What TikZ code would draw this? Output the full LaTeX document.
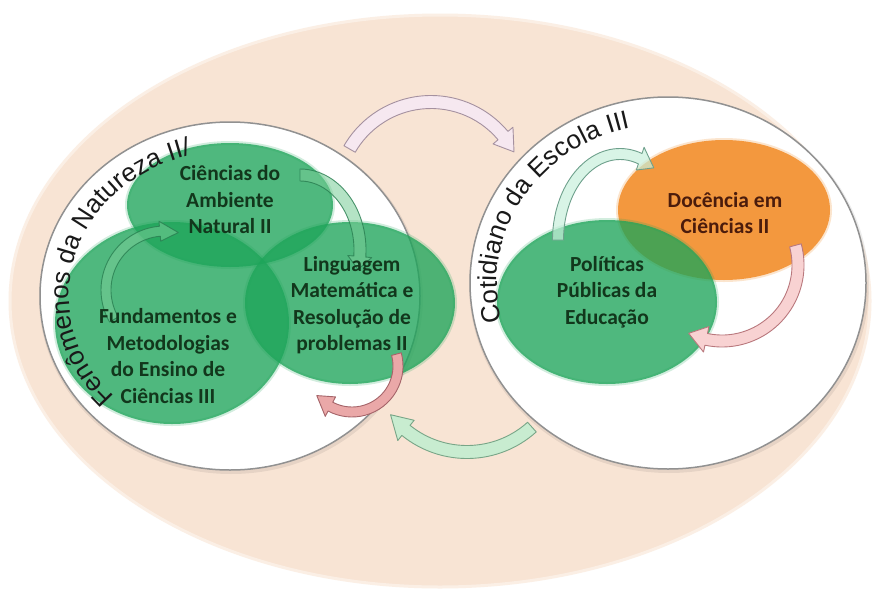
\documentclass[tikz,border=0pt]{standalone}
\usepackage{fontspec}
\setmainfont{Carlito}
\newfontfamily\ringfont{Liberation Sans}
\usetikzlibrary{shapes.geometric,calc,decorations.text}
\definecolor{peach}{RGB}{248,228,212}
\definecolor{ellgreen}{RGB}{30,165,90}
\definecolor{ellorange}{RGB}{243,152,62}
\definecolor{txtgreen}{RGB}{18,55,28}
\definecolor{txtbrown}{RGB}{75,28,12}
\definecolor{ringgray}{RGB}{145,145,145}
\definecolor{pinkfill}{RGB}{246,232,240}
\definecolor{pinkline}{RGB}{165,145,160}
\definecolor{lgfill}{RGB}{200,236,208}
\definecolor{lgline}{RGB}{120,165,135}
\definecolor{pdfill}{RGB}{234,168,168}
\definecolor{pdline}{RGB}{165,100,105}
\definecolor{igfill}{RGB}{120,205,150}
\definecolor{igline}{RGB}{40,125,80}
\definecolor{ig2fill}{RGB}{200,240,220}
\definecolor{ig2line}{RGB}{110,160,140}
\definecolor{p2fill}{RGB}{248,210,210}
\definecolor{p2line}{RGB}{185,120,125}
\definecolor{ringtext}{RGB}{25,25,25}
\pgfdeclareradialshading{ringshade}{\pgfpoint{0bp}{0bp}}{color(0bp)=(white); color(40bp)=(white); color(50bp)=(black!9); color(100bp)=(black!9)}
\newcommand\hang{12}
\newcommand\blockarc[9]{%
 \pgfmathsetmacro\bOx{(#3)+(#7)/2}\pgfmathsetmacro\bOy{(#4)+(#7)/2}%
 \pgfmathsetmacro\bIx{(#3)-(#7)/2}\pgfmathsetmacro\bIy{(#4)-(#7)/2}%
 \pgfmathsetmacro\bHOx{(#3)+(#8)/2}\pgfmathsetmacro\bHOy{(#4)+(#8)/2}%
 \pgfmathsetmacro\bHIx{(#3)-(#8)/2}\pgfmathsetmacro\bHIy{(#4)-(#8)/2}%
 \pgfmathsetmacro\bB{(#6)-(\hang)*sign((#6)-(#5))}%
 \draw[#9] ({(#1)+\bOx*cos(#5)},{(#2)+\bOy*sin(#5)})
   arc[start angle=#5,end angle=\bB,x radius=\bOx,y radius=\bOy]
   -- ({(#1)+\bHOx*cos(\bB)},{(#2)+\bHOy*sin(\bB)})
   -- ({(#1)+(#3)*cos(#6)},{(#2)+(#4)*sin(#6)})
   -- ({(#1)+\bHIx*cos(\bB)},{(#2)+\bHIy*sin(\bB)})
   -- ({(#1)+\bIx*cos(\bB)},{(#2)+\bIy*sin(\bB)})
   arc[start angle=\bB,end angle=#5,x radius=\bIx,y radius=\bIy] -- cycle;}
\begin{document}
\begin{tikzpicture}[x=1pt,y=-1pt,
  ell/.style={ellipse, inner sep=0pt, fill=ellgreen, fill opacity=0.78, draw=ellgreen, draw opacity=0.2, line width=4pt},
  ringshape/.style={ellipse, inner sep=0pt, shading=ringshade, draw=ringgray, line width=1.5pt},
  lab/.style={align=center, font=\bfseries\fontsize{21.5}{26.5}\selectfont, text=txtgreen},
  pinkarrow/.style={fill=pinkfill, draw=pinkline, line width=0.9pt, line join=round},
  greenarrow/.style={fill=lgfill, draw=lgline, line width=0.9pt, line join=round},
  pinkdark/.style={fill=pdfill, draw=pdline, line width=0.9pt, line join=round},
  ingreen/.style={fill=igfill, fill opacity=0.55, draw=igline, draw opacity=0.8, line width=0.9pt, line join=round},
  ingreentwo/.style={fill=ig2fill, fill opacity=0.7, draw=ig2line, line width=0.9pt, line join=round},
  pinktwo/.style={fill=p2fill, draw=p2line, line width=0.9pt, line join=round}]
\useasboundingbox (0,0) rectangle (877,589);
\fill[white] (0,0) rectangle (877,589);
% background
\node[ellipse, inner sep=0pt, fill=peach, draw=peach!60!white, line width=3pt,
      minimum width=860pt, minimum height=572pt] (bg) at (440,301) {};
% rings with soft shadow
\node[ellipse, inner sep=0pt, fill=black, fill opacity=0.07, minimum width=384pt, minimum height=352pt] (lsh) at (231,298) {};
\node[ellipse, inner sep=0pt, fill=black, fill opacity=0.07, minimum width=400pt, minimum height=376pt] (rsh) at (669,285) {};
\node[ringshape, minimum width=380pt, minimum height=348pt] (lring) at (230,296) {};
\node[ringshape, minimum width=396pt, minimum height=372pt] (rring) at (668,283) {};
% ellipses
\node[ell, minimum width=206pt, minimum height=124pt] (cien) at (230,205) {};
\node[ell, minimum width=234pt, minimum height=202pt] (fund) at (172,323) {};
\node[ell, minimum width=210pt, minimum height=162pt] (ling) at (350,303) {};
\node[ellipse, inner sep=0pt, fill=ellorange, draw=ellorange, draw opacity=0.25, line width=4pt, minimum width=212pt, minimum height=140pt] (doc) at (724,210) {};
\node[ell, minimum width=220pt, minimum height=164pt] (pol) at (607,302) {};
% block arrows
\renewcommand\hang{12}\blockarc{431}{196}{94}{94}{210}{332}{13}{26}{pinkarrow}
\renewcommand\hang{13}\blockarc{467}{355}{97}{97}{48}{142}{13}{26}{greenarrow}
\renewcommand\hang{22}\blockarc{352}{366}{46}{46}{-15}{140}{10}{22}{pinkdark}
\renewcommand\hang{18}\blockarc{165}{290}{59}{59}{150}{283}{10}{20}{ingreen}
\renewcommand\hang{10}\blockarc{300}{250}{60}{75}{270}{375}{12}{24}{ingreen}
\renewcommand\hang{14}\blockarc{620}{240}{62}{86}{180}{303}{11}{24}{ingreentwo}
\renewcommand\hang{14}\blockarc{722}{265}{76}{76}{-15}{116}{12}{26}{pinktwo}
% curved titles
\path[decorate, decoration={text along path, text align=left,
   text={|\ringfont\fontsize{26}{26}\selectfont\color{ringtext}|Fenômenos da Natureza II/}}]
   ({230+161*cos(136)},{296+145*sin(136)}) arc[start angle=136, end angle=285, x radius=161, y radius=145];
\path[decorate, decoration={text along path, text align=left,
   text={|\ringfont\fontsize{26}{26}\selectfont\color{ringtext}|Cotidiano da Escola III}}]
   ({668+171*cos(166)},{283+159*sin(166)}) arc[start angle=166, end angle=290, x radius=171, y radius=159];
% labels
\node[lab] (tcien) at (230,200) {Ciências do\\Ambiente\\Natural II};
\node[lab] (tfund) at (168,356) {Fundamentos e\\Metodologias\\do Ensino de\\Ciências III};
\node[lab] (tling) at (352,305) {Linguagem\\Matemática e\\Resolução de\\problemas II};
\node[lab] (tpol) at (607,292) {Políticas\\Públicas da\\Educação};
\node[lab, text=txtbrown] (tdoc) at (725,213) {Docência em\\Ciências II};
\end{tikzpicture}
\end{document}
